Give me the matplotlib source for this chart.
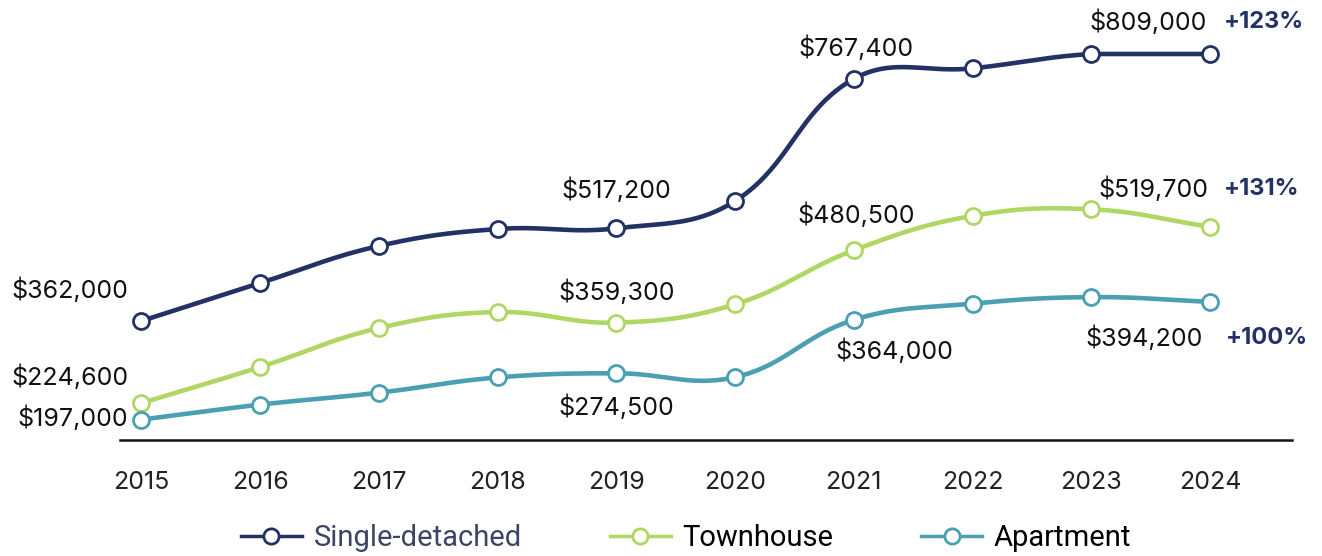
import numpy as np
import matplotlib
matplotlib.use('Agg')
from matplotlib import pyplot as plt
from matplotlib.lines import Line2D

years = [2015, 2016, 2017, 2018, 2019, 2020, 2021, 2022, 2023, 2024]
single = [362000, 425600, 487600, 516000, 517200, 562900, 767400, 785000, 809000, 809000]
townhouse = [224600, 284900, 350200, 377000, 359300, 390000, 480500, 538000, 549000, 519700]
apartment = [197000, 222000, 242000, 267500, 274500, 268000, 364000, 391000, 402000, 394200]

names = ['Single-detached', 'Townhouse', 'Apartment']
colors = ['#243165', '#b0d764', '#4a9fb3']
growth = ['+123%', '+131%', '+100%']

# value labels: (series index, year, text, offset px)
labels = [
    (0, 2015, '$362,000', (-71, 31)),
    (1, 2015, '$224,600', (-71, 26)),
    (2, 2015, '$197,000', (-69, 1)),
    (0, 2019, '$517,200', (0, 38)),
    (1, 2019, '$359,300', (0, 30)),
    (2, 2019, '$274,500', (0, -34)),
    (0, 2021, '$767,400', (2, 31)),
    (1, 2021, '$480,500', (2, 35)),
    (2, 2021, '$364,000', (41, -31)),
    (0, 2023, '$809,000', (57, 32)),
    (1, 2024, '$519,700', (-57, 38)),
    (2, 2024, '$394,200', (-66, -36)),
]
growth_off = [(54, 32), (52, 38), (57, -36)]


def spline(ax, x, y, tension=0.4, n=40):
    # chart.js style bezier spline, built in pixel space and capped to the plot area
    pts = ax.transData.transform(np.column_stack([x, y]))
    bb = ax.get_window_extent()
    k = len(pts)
    cp_prev = np.zeros_like(pts)
    cp_next = np.zeros_like(pts)
    for i in range(k):
        prev = pts[max(i - 1, 0)]
        cur = pts[i]
        nxt = pts[min(i + 1, k - 1)]
        d01 = np.hypot(*(cur - prev))
        d12 = np.hypot(*(nxt - cur))
        tot = d01 + d12
        s01 = d01 / tot if tot else 0
        s12 = d12 / tot if tot else 0
        cp_prev[i] = cur - tension * s01 * (nxt - prev)
        cp_next[i] = cur + tension * s12 * (nxt - prev)
    for cp in (cp_prev, cp_next):
        cp[:, 1] = np.clip(cp[:, 1], bb.y0, bb.y1)
        cp[:, 0] = np.clip(cp[:, 0], bb.x0, bb.x1)
    t = np.linspace(0, 1, n)[:, None]
    segs = []
    for i in range(k - 1):
        p0, p1, p2, p3 = pts[i], cp_next[i], cp_prev[i + 1], pts[i + 1]
        segs.append((1 - t)**3 * p0 + 3 * (1 - t)**2 * t * p1 + 3 * (1 - t) * t**2 * p2 + t**3 * p3)
    curve = ax.transData.inverted().transform(np.vstack(segs))
    return curve[:, 0], curve[:, 1]


plt.rcParams['font.family'] = ['Inter', 'DejaVu Sans']

fig = plt.figure(figsize=(13.22, 5.56), dpi=100)
ax = fig.add_axes([120 / 1322, 116 / 556, 1172 / 1322, 386 / 556])
ax.set_xlim(2014.82, 2024.69)
ax.set_ylim(162800, 809000)

series = [single, townhouse, apartment]
for vals, c in zip(series, colors):
    sx, sy = spline(ax, years, vals)
    ax.plot(sx, sy, color=c, lw=3.3, solid_capstyle='round', clip_on=False, zorder=2)
    ax.plot(years, vals, 'o', ms=11.5, mfc='white', mec=c, mew=2, clip_on=False, zorder=3)

for si, yr, txt, off in labels:
    val = series[si][years.index(yr)]
    ax.annotate(txt, (yr, val), xytext=off, textcoords='offset pixels',
                ha='center', va='center', fontsize=18, color='#111111')

for si in range(3):
    ax.annotate(growth[si], (2024, series[si][-1]), xytext=growth_off[si],
                textcoords='offset pixels', ha='center', va='center',
                fontsize=17, fontweight='bold', color='#243165')

ax.set_xticks(years)
ax.set_xticklabels([str(y) for y in years], fontsize=18, color='#222222')
ax.tick_params(axis='x', length=0, pad=22)
ax.set_yticks([])
for s in ['top', 'right', 'left']:
    ax.spines[s].set_visible(False)
ax.spines['bottom'].set_linewidth(1.8)
ax.spines['bottom'].set_color('#111111')

handles = [Line2D([], [], color=c, lw=2.5, marker='o', ms=11, mfc='white', mec=c, mew=2)
           for c in colors]
leg = fig.legend(handles, names, loc='center', bbox_to_anchor=(0.519, 18 / 556), ncol=3,
                 frameon=False, handlelength=2.1, handletextpad=0.4,
                 columnspacing=3.0, prop={'family': 'Roboto', 'size': 21})
leg.get_texts()[0].set_color('#3b4463')

fig.savefig('out.png', dpi=100)
